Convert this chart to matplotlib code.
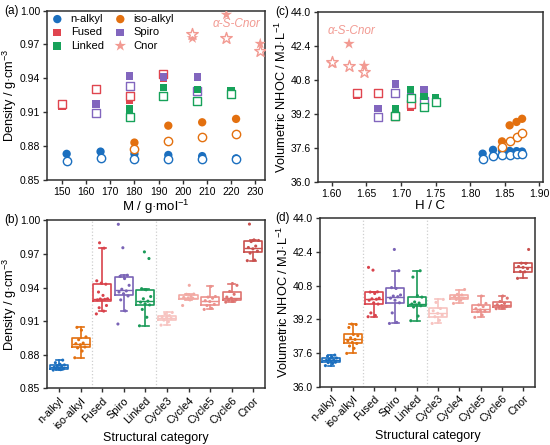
import numpy as np
import matplotlib
matplotlib.use('Agg')
import matplotlib.pyplot as plt

plt.rcParams['font.family'] = ['Liberation Sans', 'DejaVu Sans']
plt.rcParams['mathtext.default'] = 'regular'
plt.rcParams['axes.linewidth'] = 1.1
plt.rcParams['axes.edgecolor'] = '#303030'
plt.rcParams['xtick.labelsize'] = 7.5
plt.rcParams['ytick.labelsize'] = 7.5

nan = np.nan

# ---- panel (a)/(c): molar mass, H/C, density and NHOC (filled = exp, open = pred)
fam_names = ['n-alkyl', 'iso-alkyl', 'Fused', 'Spiro', 'Linked', 'Cnor']

M_nalk = [152, 166, 180, 194, 208, 222]
hc_nalk = [1.818, 1.833, 1.846, 1.857, 1.867, 1.875]
rho_exp_nalk = [0.873, 0.875, 0.873, 0.872, 0.871, 0.869]
rho_pred_nalk = [0.867, 0.869, 0.868, 0.868, 0.868, 0.868]
q_exp_nalk = [37.32, 37.50, 37.46, 37.45, 37.44, 37.42]
q_pred_nalk = [37.06, 37.22, 37.26, 37.28, 37.30, 37.32]

M_iso = [180, 194, 208, 222]
hc_iso = [1.846, 1.857, 1.867, 1.875]
rho_exp_iso = [0.883, 0.898, 0.901, 0.904]
rho_pred_iso = [0.8775, 0.884, 0.888, 0.891]
q_exp_iso = [37.90, 38.66, 38.82, 38.97]
q_pred_iso = [37.65, 37.92, 38.09, 38.28]

M_fused = [150, 164, 178, 192]
hc_fused = [1.636, 1.667, 1.692, 1.714]
rho_exp_fused = [0.9157, nan, 0.921, 0.940]
rho_pred_fused = [0.9175, 0.9305, 0.9245, 0.944]
q_exp_fused = [40.08, nan, 39.43, 39.52]
q_pred_fused = [40.17, 40.19, 39.12, 39.65]

M_spiro = [164, 178, 192, 206]
hc_spiro = [1.667, 1.692, 1.714, 1.733]
rho_exp_spiro = [0.917, 0.9423, 0.941, 0.941]
rho_pred_spiro = [0.909, 0.933, nan, 0.929]
q_exp_spiro = [39.45, 40.61, 40.30, 40.33]
q_pred_spiro = [39.04, 40.17, nan, 39.80]

M_linked = [178, 192, 206, 220]
hc_linked = [1.692, 1.714, 1.733, 1.750]
rho_exp_linked = [0.913, 0.932, 0.930, 0.9293]
rho_pred_linked = [0.906, 0.9245, 0.920, 0.926]
q_exp_linked = [39.43, 40.36, 40.02, 39.94]
q_pred_linked = [39.12, 39.94, 39.54, 39.78]

M_cnor = [204, 218, 232]
hc_cnor = [1.600, 1.625, 1.647]
rho_exp_cnor = [0.9757, 0.9965, 0.9707]
rho_pred_cnor = [0.979, 0.976, 0.9645]
q_exp_cnor = [41.59, 42.52, 41.48]
q_pred_cnor = [41.65, 41.48, 41.17]

# ---- panel (b)/(d): distributions per structural category
categories = ['n-alkyl', 'iso-alkyl', 'Fused', 'Spiro', 'Linked',
              'Cycle3', 'Cycle4', 'Cycle5', 'Cycle6', 'Cnor']

rho_box = [
    [0.8664, 0.8668, 0.8672, 0.8674, 0.8685, 0.8690, 0.8698, 0.8703, 0.8710, 0.8716, 0.8730, 0.8753],
    [0.8774, 0.8834, 0.8862, 0.8870, 0.8890, 0.8900, 0.8905, 0.8935, 0.8960, 0.9020, 0.9045],
    [0.9165, 0.9190, 0.9220, 0.9240, 0.9288, 0.9290, 0.9295, 0.9298, 0.9300, 0.9330, 0.9360,
     0.9430, 0.9440, 0.9460, 0.9751, 0.9799],
    [0.9075, 0.9192, 0.9290, 0.9325, 0.9345, 0.9360, 0.9370, 0.9385, 0.9420, 0.9480, 0.9500,
     0.9510, 0.9755, 0.9964],
    [0.9059, 0.9135, 0.9205, 0.9245, 0.9255, 0.9270, 0.9279, 0.9300, 0.9320, 0.9380, 0.9390,
     0.9659, 0.9718],
    [0.9065, 0.9095, 0.9110, 0.9125, 0.9133, 0.9140, 0.9150, 0.9165, 0.9178],
    [0.9240, 0.9290, 0.9298, 0.9305, 0.9308, 0.9312, 0.9320, 0.9340, 0.9342, 0.9420],
    [0.9205, 0.9215, 0.9240, 0.9250, 0.9275, 0.9283, 0.9305, 0.9315, 0.9320, 0.9410],
    [0.9270, 0.9278, 0.9288, 0.9290, 0.9305, 0.9315, 0.9340, 0.9365, 0.9420, 0.9436],
    [0.9640, 0.9645, 0.9707, 0.9725, 0.9745, 0.9757, 0.9770, 0.9810, 0.9820, 0.9825, 0.9966],
]

q_box = [
    [37.00, 37.10, 37.14, 37.16, 37.22, 37.25, 37.27, 37.30, 37.36, 37.40, 37.45, 37.50],
    [37.58, 37.82, 37.93, 38.05, 38.10, 38.18, 38.24, 38.32, 38.42, 38.48, 38.81, 38.95, 38.97],
    [39.32, 39.38, 39.50, 39.92, 39.98, 40.10, 40.15, 40.17, 40.20, 40.42, 40.49, 40.50, 41.53, 41.66],
    [39.00, 39.05, 39.50, 39.98, 40.10, 40.20, 40.27, 40.30, 40.35, 40.66, 40.70, 41.50, 42.51],
    [39.13, 39.35, 39.78, 39.84, 39.88, 39.92, 39.97, 40.02, 40.25, 40.32, 41.20, 41.50],
    [39.00, 39.15, 39.32, 39.40, 39.48, 39.60, 39.71, 40.00, 40.14],
    [39.95, 40.10, 40.14, 40.20, 40.24, 40.28, 40.35, 40.38, 40.61],
    [39.29, 39.40, 39.56, 39.58, 39.64, 39.70, 39.80, 39.88, 39.95, 40.30],
    [39.70, 39.74, 39.77, 39.80, 39.85, 39.89, 39.95, 40.04, 40.20, 40.30],
    [41.14, 41.45, 41.46, 41.60, 41.66, 41.70, 41.85, 41.86, 42.51],
]

# whisker rule per box (the original mixes rules)
whis_b = [1.5, 1.5, (5, 95), 1.5, 1.5, 1.5, 1.5, 1.5, 1.5, 1.5]
whis_d = [1.5, 1.5, 1.5, 1.5, (0, 100), 1.5, 1.5, 1.5, 1.5, 1.5]

# ---- styles
c_blue, c_orange, c_red = '#1B6FBF', '#E3700F', '#E0454F'
c_purple, c_green, c_star = '#8266BE', '#17A25A', '#F29A92'
box_colors = [c_blue, c_orange, '#D9434C', '#7A63B6', '#1A9A58',
              '#F7C3C0', '#F2A9A3', '#EB918C', '#DE7370', '#C9504E']

families = [
    (M_nalk, hc_nalk, rho_exp_nalk, rho_pred_nalk, q_exp_nalk, q_pred_nalk, c_blue, 'o', 36),
    (M_iso, hc_iso, rho_exp_iso, rho_pred_iso, q_exp_iso, q_pred_iso, c_orange, 'o', 36),
    (M_fused, hc_fused, rho_exp_fused, rho_pred_fused, q_exp_fused, q_pred_fused, c_red, 's', 30),
    (M_spiro, hc_spiro, rho_exp_spiro, rho_pred_spiro, q_exp_spiro, q_pred_spiro, c_purple, 's', 30),
    (M_linked, hc_linked, rho_exp_linked, rho_pred_linked, q_exp_linked, q_pred_linked, c_green, 's', 30),
    (M_cnor, hc_cnor, rho_exp_cnor, rho_pred_cnor, q_exp_cnor, q_pred_cnor, c_star, '*', 75),
]

fig = plt.figure(figsize=(5.5, 4.45), dpi=100)
ax_a = fig.add_axes([0.086, 0.596, 0.396, 0.380])
ax_c = fig.add_axes([0.578, 0.592, 0.409, 0.380])
ax_b = fig.add_axes([0.086, 0.127, 0.396, 0.378])
ax_d = fig.add_axes([0.581, 0.131, 0.392, 0.379])

for ax in (ax_a, ax_b, ax_c, ax_d):
    ax.tick_params(direction='out', length=3, width=1, colors='#303030', labelcolor='black', pad=2)

# ---- scatter panels
for name, fam in zip(fam_names, families):
    M, hc, re_, rp, qe, qp, col, mk, sz = fam
    ax_a.scatter(M, re_, s=sz, marker=mk, color=col, edgecolors='none', label=name, zorder=3)
    ax_a.scatter(M, rp, s=sz, marker=mk, facecolors='white', edgecolors=col, linewidths=1.0, zorder=3)
    ax_c.scatter(hc, qe, s=sz, marker=mk, color=col, edgecolors='none', zorder=3)
    ax_c.scatter(hc, qp, s=sz, marker=mk, facecolors='white', edgecolors=col, linewidths=1.0, zorder=3)

ax_a.set_xlim(144, 234)
ax_a.set_ylim(0.85, 1.00)
ax_a.set_xticks(np.arange(150, 231, 10))
ax_a.set_yticks(np.arange(0.85, 1.001, 0.03))
ax_a.yaxis.set_major_formatter(matplotlib.ticker.FormatStrFormatter('%.2f'))
ax_a.set_xlabel('M / g·mol$^{-1}$', fontsize=9.5, labelpad=1)
ax_a.set_ylabel('Density / g·cm$^{-3}$', fontsize=9.2, labelpad=1)
ax_a.text(222, 0.988, 'α-S-Cnor', color=c_star, fontsize=8.5, style='italic',
          ha='center', va='center')
h, l = ax_a.get_legend_handles_labels()
order = [0, 2, 4, 1, 3, 5]
ax_a.legend([h[i] for i in order], [l[i] for i in order], ncol=2, loc='upper left',
            frameon=False, fontsize=8, handletextpad=0.6, columnspacing=0.9,
            labelspacing=0.3, borderaxespad=0.1, borderpad=0.2, handlelength=1.2)

ax_c.set_xlim(1.58, 1.905)
ax_c.set_ylim(36.0, 44.0)
ax_c.set_xticks(np.arange(1.60, 1.901, 0.05))
ax_c.set_yticks(np.arange(36.0, 44.01, 1.6))
ax_c.xaxis.set_major_formatter(matplotlib.ticker.FormatStrFormatter('%.2f'))
ax_c.yaxis.set_major_formatter(matplotlib.ticker.FormatStrFormatter('%.1f'))
ax_c.set_xlabel('H / C', fontsize=9.5, labelpad=1)
ax_c.set_ylabel('Volumetric NHOC / MJ·L$^{-1}$', fontsize=9.2, labelpad=1)
ax_c.text(1.594, 43.1, 'α-S-Cnor', color=c_star, fontsize=8.5, style='italic',
          ha='left', va='center')


# ---- box panels
def draw_boxes(ax, data, whis_list):
    for i, (vals, col, w) in enumerate(zip(data, box_colors, whis_list)):
        ax.boxplot(vals, positions=[i], widths=0.84, whis=w, showfliers=False,
                   manage_ticks=False, capwidths=0.3,
                   boxprops=dict(color=col, lw=1.2),
                   whiskerprops=dict(color=col, lw=1.2),
                   capprops=dict(color=col, lw=1.2),
                   medianprops=dict(color=col, lw=1.0))
        jit = ((np.arange(len(vals)) * 0.618) % 1 - 0.5) * 0.55
        ax.scatter(i + jit, vals, s=5, color=col, edgecolors='none', zorder=3)
    for xs in (1.5, 4.5):
        ax.axvline(xs, color='#cfcfcf', ls=':', lw=0.9, zorder=0)
    ax.set_xlim(-0.55, 9.55)
    ax.set_xticks(range(len(categories)))
    ax.set_xticklabels(categories, rotation=45, ha='right', rotation_mode='anchor', fontsize=7.8)
    ax.set_xlabel('Structural category', fontsize=9, labelpad=1)


draw_boxes(ax_b, rho_box, whis_b)
ax_b.set_ylim(0.85, 1.00)
ax_b.set_yticks(np.arange(0.85, 1.001, 0.03))
ax_b.yaxis.set_major_formatter(matplotlib.ticker.FormatStrFormatter('%.2f'))
ax_b.set_ylabel('Density / g·cm$^{-3}$', fontsize=9.2, labelpad=1)

draw_boxes(ax_d, q_box, whis_d)
ax_d.set_ylim(36.0, 44.0)
ax_d.set_yticks(np.arange(36.0, 44.01, 1.6))
ax_d.yaxis.set_major_formatter(matplotlib.ticker.FormatStrFormatter('%.1f'))
ax_d.set_ylabel('Volumetric NHOC / MJ·L$^{-1}$', fontsize=9.2, labelpad=1)

# ---- panel letters
fig.text(0.008, 1 - 11 / 445, '(a)', fontsize=8.5, va='center')
fig.text(0.008, 1 - 220 / 445, '(b)', fontsize=8.5, va='center')
fig.text(0.500, 1 - 12 / 445, '(c)', fontsize=8.5, va='center')
fig.text(0.500, 1 - 218 / 445, '(d)', fontsize=8.5, va='center')

fig.savefig('out.png', dpi=100)
